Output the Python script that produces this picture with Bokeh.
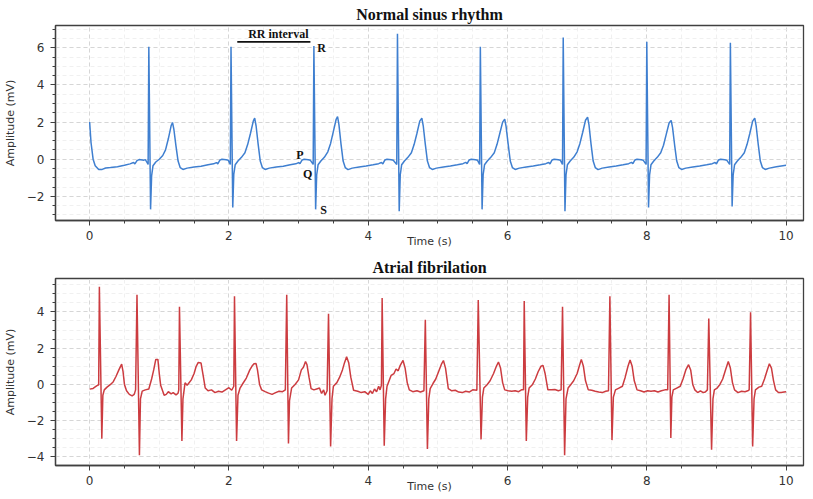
from bokeh.plotting import figure
from bokeh.layouts import column
from bokeh.models import FixedTicker, Range1d
from bokeh.core.properties import value
from bokeh.embed import file_html
from bokeh.resources import INLINE

# ---------------- data ----------------
# Normal sinus rhythm: time (s) and amplitude (mV)
nsr_t = [0.00, 0.02, 0.05, 0.08, 0.13, 0.18, 0.23, 0.30, 0.40, 0.50, 0.58, 0.63, 0.65, 0.68, 0.71, 0.78, 0.80, 0.82, 0.84,
         0.85, 0.875, 0.89, 0.91, 0.95, 1.00, 1.05, 1.09, 1.13, 1.17, 1.19, 1.21, 1.24, 1.27, 1.30, 1.34, 1.40, 1.50, 1.60, 1.70, 1.78, 1.82, 1.84, 1.87, 1.90, 1.96, 1.99, 2.02,
         2.03, 2.055, 2.07, 2.09, 2.13, 2.18, 2.23, 2.27, 2.31, 2.35, 2.37, 2.39, 2.42, 2.45, 2.48, 2.52, 2.58, 2.68, 2.78, 2.88, 2.96, 3.00, 3.02, 3.05, 3.08, 3.14, 3.17, 3.21,
         3.22, 3.245, 3.26, 3.28, 3.32, 3.37, 3.42, 3.46, 3.50, 3.54, 3.56, 3.58, 3.61, 3.64, 3.67, 3.71, 3.77, 3.87, 3.97, 4.07, 4.15, 4.19, 4.21, 4.24, 4.27, 4.33, 4.36, 4.41,
         4.42, 4.445, 4.46, 4.48, 4.52, 4.57, 4.62, 4.66, 4.70, 4.74, 4.77, 4.79, 4.82, 4.85, 4.88, 4.92, 4.98, 5.08, 5.18, 5.28, 5.36, 5.40, 5.42, 5.45, 5.48, 5.54, 5.57, 5.60,
         5.61, 5.635, 5.65, 5.67, 5.71, 5.76, 5.81, 5.85, 5.89, 5.93, 5.96, 5.98, 6.01, 6.04, 6.07, 6.11, 6.17, 6.27, 6.37, 6.47, 6.55, 6.59, 6.61, 6.64, 6.67, 6.73, 6.76, 6.79,
         6.80, 6.825, 6.84, 6.86, 6.90, 6.95, 7.00, 7.04, 7.08, 7.12, 7.15, 7.17, 7.20, 7.23, 7.26, 7.30, 7.36, 7.46, 7.56, 7.66, 7.74, 7.78, 7.80, 7.83, 7.86, 7.92, 7.95, 7.99,
         8.00, 8.025, 8.04, 8.06, 8.10, 8.15, 8.20, 8.24, 8.28, 8.32, 8.35, 8.37, 8.40, 8.43, 8.46, 8.50, 8.56, 8.66, 8.76, 8.86, 8.94, 8.98, 9.00, 9.03, 9.06, 9.12, 9.15, 9.19,
         9.20, 9.225, 9.24, 9.26, 9.30, 9.35, 9.40, 9.44, 9.48, 9.52, 9.55, 9.57, 9.60, 9.63, 9.66, 9.70, 9.76, 9.86, 10.00]
nsr_v = [2.00, 0.90, 0.00, -0.35, -0.56, -0.55, -0.47, -0.45, -0.40, -0.33, -0.25, -0.18, -0.25, -0.08, -0.02, -0.05, -0.02, -0.15, -0.28,
         6.05, -2.70, -0.90, -0.35, -0.15, 0.00, 0.20, 0.50, 1.10, 1.80, 1.98, 1.60, 0.70, -0.10, -0.45, -0.55, -0.48, -0.42, -0.38, -0.30, -0.25, -0.18, -0.25, -0.05, 0.00, -0.03, -0.05, -0.28,
         6.05, -2.60, -0.80, -0.30, -0.10, 0.10, 0.35, 0.80, 1.40, 2.05, 2.21, 1.80, 0.80, -0.10, -0.45, -0.55, -0.48, -0.42, -0.38, -0.30, -0.25, -0.18, -0.24, -0.05, 0.00, -0.03, -0.06, -0.28,
         6.10, -2.70, -0.85, -0.30, -0.10, 0.10, 0.40, 0.85, 1.50, 2.15, 2.30, 1.85, 0.80, -0.10, -0.45, -0.56, -0.48, -0.42, -0.37, -0.30, -0.24, -0.18, -0.25, -0.04, 0.00, -0.03, -0.06, -0.28,
         6.75, -2.80, -0.85, -0.30, -0.10, 0.10, 0.35, 0.80, 1.40, 2.05, 2.21, 1.80, 0.80, -0.10, -0.45, -0.55, -0.48, -0.42, -0.37, -0.30, -0.24, -0.17, -0.24, -0.04, 0.00, -0.03, -0.06, -0.28,
         6.05, -2.70, -0.85, -0.30, -0.10, 0.10, 0.35, 0.80, 1.40, 2.00, 2.16, 1.75, 0.80, -0.10, -0.45, -0.55, -0.48, -0.42, -0.37, -0.30, -0.24, -0.18, -0.25, -0.04, 0.00, -0.03, -0.06, -0.28,
         6.55, -2.80, -0.85, -0.30, -0.10, 0.10, 0.40, 0.85, 1.45, 2.10, 2.27, 1.85, 0.80, -0.10, -0.45, -0.56, -0.48, -0.42, -0.37, -0.30, -0.24, -0.17, -0.24, -0.04, 0.00, -0.03, -0.06, -0.28,
         6.32, -2.60, -0.85, -0.30, -0.10, 0.10, 0.35, 0.75, 1.35, 1.95, 2.09, 1.70, 0.75, -0.10, -0.45, -0.55, -0.48, -0.42, -0.37, -0.30, -0.24, -0.18, -0.25, -0.04, 0.00, -0.03, -0.06, -0.28,
         6.27, -2.55, -0.85, -0.30, -0.10, 0.10, 0.35, 0.80, 1.40, 2.05, 2.21, 1.80, 0.80, -0.10, -0.45, -0.55, -0.48, -0.40, -0.32]

# Atrial fibrillation: time (s) and amplitude (mV)
af_t = [0.00, 0.05, 0.10, 0.13,
        0.14, 0.175, 0.19, 0.21, 0.25, 0.30, 0.34, 0.38, 0.42, 0.46, 0.48, 0.50, 0.53, 0.57, 0.61, 0.64, 0.66,
        0.68, 0.715, 0.73, 0.755, 0.80, 0.85, 0.89, 0.92, 0.95, 0.98, 1.00, 1.02, 1.07, 1.10, 1.13, 1.17, 1.20, 1.24, 1.27, 1.28,
        1.29, 1.325, 1.34, 1.37, 1.40, 1.42, 1.46, 1.50, 1.53, 1.56, 1.60, 1.63, 1.66, 1.70, 1.75, 1.80, 1.85, 1.90, 1.95, 2.00, 2.04, 2.07,
        2.08, 2.11, 2.13, 2.16, 2.20, 2.25, 2.30, 2.33, 2.36, 2.39, 2.41, 2.44, 2.47, 2.52, 2.57, 2.62, 2.67, 2.72, 2.77, 2.81,
        2.83, 2.855, 2.87, 2.90, 2.95, 3.00, 3.04, 3.07, 3.10, 3.12, 3.15, 3.18, 3.22, 3.26, 3.30, 3.33, 3.36, 3.38, 3.41,
        3.43, 3.46, 3.48, 3.50, 3.55, 3.59, 3.63, 3.66, 3.69, 3.72, 3.75, 3.79, 3.85, 3.90, 3.95, 4.00, 4.03, 4.06, 4.09, 4.12, 4.15, 4.17, 4.19,
        4.20, 4.23, 4.25, 4.27, 4.30, 4.33, 4.37, 4.40, 4.43, 4.46, 4.50, 4.53, 4.56, 4.59, 4.64, 4.70, 4.75, 4.80,
        4.82, 4.85, 4.87, 4.89, 4.93, 4.97, 5.01, 5.05, 5.08, 5.11, 5.15, 5.20, 5.25, 5.30, 5.35, 5.40, 5.45, 5.50, 5.56,
        5.58, 5.62, 5.64, 5.66, 5.71, 5.75, 5.80, 5.84, 5.87, 5.90, 5.93, 5.96, 6.01, 6.06, 6.11, 6.16, 6.20, 6.23,
        6.24, 6.27, 6.29, 6.31, 6.36, 6.40, 6.44, 6.48, 6.51, 6.54, 6.58, 6.63, 6.68, 6.73, 6.77,
        6.79, 6.82, 6.84, 6.87, 6.91, 6.95, 7.00, 7.03, 7.06, 7.09, 7.12, 7.16, 7.21, 7.26, 7.31, 7.36, 7.41, 7.45,
        7.47, 7.50, 7.52, 7.55, 7.60, 7.65, 7.69, 7.73, 7.76, 7.79, 7.82, 7.86, 7.91, 7.96, 8.01, 8.06, 8.11, 8.16, 8.21, 8.26, 8.30,
        8.32, 8.345, 8.36, 8.38, 8.43, 8.48, 8.52, 8.56, 8.60, 8.63, 8.66, 8.69, 8.73, 8.77, 8.81, 8.84, 8.87,
        8.89, 8.93, 8.95, 8.97, 9.01, 9.05, 9.09, 9.13, 9.17, 9.20, 9.23, 9.26, 9.31, 9.36, 9.41, 9.45, 9.47,
        9.49, 9.52, 9.54, 9.56, 9.61, 9.65, 9.69, 9.73, 9.76, 9.79, 9.82, 9.85, 9.89, 9.93, 9.97, 10.00]
af_v = [-0.26, -0.22, -0.08, -0.02,
        5.38, -3.00, -0.60, -0.30, -0.15, 0.00, 0.15, 0.45, 0.80, 1.12, 0.70, 0.00, -0.35, -0.55, -0.63, -0.55, -0.30,
        4.95, -3.90, -0.80, -0.37, -0.30, -0.25, 0.30, 0.80, 1.38, 1.38, 0.60, -0.05, -0.60, -0.55, -0.40, -0.52, -0.45, -0.58, -0.48, -0.30,
        4.28, -3.12, -0.80, 0.09, -0.05, 0.05, 0.25, 0.60, 1.00, 1.21, 1.18, 0.50, -0.20, -0.35, -0.30, -0.45, -0.38, -0.42, -0.30, -0.18, -0.32, -0.10,
        4.86, -3.12, -0.60, -0.20, 0.05, 0.35, 0.80, 1.00, 1.14, 1.15, 0.80, 0.00, -0.30, -0.40, -0.48, -0.55, -0.45, -0.38, -0.40, -0.30,
        4.95, -3.26, -0.90, -0.20, 0.00, 0.25, 0.80, 0.95, 1.26, 1.10, 0.40, -0.23, -0.30, -0.25, -0.20, -0.50, -0.30, -0.60, -0.35,
        3.90, -3.42, -0.80, -0.10, 0.10, 0.40, 0.80, 1.20, 1.53, 1.20, 0.40, -0.32, -0.38, -0.45, -0.40, -0.55, -0.35, -0.50, -0.25, -0.40, -0.10, -0.30, -0.05,
        4.77, -3.38, -0.80, -0.10, 0.20, 0.50, 0.60, 0.85, 0.75, 1.05, 1.32, 0.90, 0.10, -0.30, -0.40, -0.35, -0.42, -0.35,
        3.56, -3.56, -0.80, -0.23, 0.05, 0.30, 0.70, 1.10, 1.32, 0.90, -0.23, -0.35, -0.32, -0.42, -0.45, -0.38, -0.42, -0.30, -0.32,
        4.65, -3.03, -0.70, -0.20, 0.00, 0.20, 0.60, 1.00, 1.23, 0.90, 0.10, -0.30, -0.35, -0.38, -0.35, -0.40, -0.30, -0.30,
        4.60, -3.12, -0.70, -0.20, 0.00, 0.30, 0.70, 1.00, 1.05, 0.60, -0.30, -0.30, -0.28, -0.35, -0.30,
        4.28, -3.91, -0.80, -0.20, 0.00, 0.20, 0.60, 1.00, 1.38, 1.00, 0.20, -0.30, -0.32, -0.38, -0.42, -0.45, -0.38, -0.35,
        4.86, -3.07, -0.70, -0.30, -0.20, -0.10, 0.40, 1.00, 1.35, 1.00, 0.20, -0.30, -0.35, -0.42, -0.35, -0.38, -0.35, -0.42, -0.35, -0.30, -0.30,
        4.95, -2.95, -0.70, -0.30, -0.20, -0.10, 0.30, 0.80, 1.09, 0.80, 0.00, -0.30, -0.45, -0.35, -0.45, -0.42, -0.30,
        3.63, -3.60, -0.80, -0.30, -0.20, 0.00, 0.30, 0.80, 1.26, 0.90, 0.10, -0.30, -0.45, -0.38, -0.40, -0.35, -0.30,
        3.98, -3.42, -0.80, -0.30, -0.15, -0.10, 0.30, 0.80, 1.14, 0.90, 0.20, -0.30, -0.45, -0.45, -0.42, -0.40]

# annotations of the top panel
wave_labels = ["P", "Q", "R", "S"]
wave_label_t = [3.02, 3.13, 3.33, 3.36]
wave_label_v = [0.25, -0.82, 6.0, -2.72]
rr_text = "RR interval"
rr_start, rr_end, rr_level = 2.12, 3.17, 6.32
rr_text_t, rr_text_v = 2.71, 6.72

x_ticks = [0, 2, 4, 6, 8, 10]
x_minor = [-0.5 + 0.5 * i for i in range(23)]
top_y_ticks = [-2, 0, 2, 4, 6]
bot_y_ticks = [-4, -2, 0, 2, 4]

NSR_COLOR = "#3f7fd0"
AF_COLOR = "#cc3c40"
SANS = "DejaVu Sans"
SERIF = "Liberation Serif"


def make_fig(title, yr, yticks, frame_h, top_border):
    p = figure(frame_width=748, frame_height=frame_h, output_backend="svg",
               toolbar_location=None, x_range=Range1d(-0.49, 10.25), y_range=Range1d(*yr),
               min_border_left=0, min_border_right=2, min_border_top=top_border, min_border_bottom=0)
    p.title.text = title
    p.title.align = "center"
    p.title.text_font = SERIF
    p.title.text_font_size = "16px"
    p.title.text_font_style = "bold"
    p.title.text_color = "#111111"
    p.title.standoff = 6
    p.outline_line_color = "#404040"
    p.outline_line_width = 1.3
    p.background_fill_color = "white"
    p.border_fill_color = "white"
    minor_y = [yr[0] // 0.5 * 0.5 + 0.5 * i for i in range(40)]
    p.xaxis.ticker = FixedTicker(ticks=x_ticks, minor_ticks=x_minor)
    p.yaxis.ticker = FixedTicker(ticks=yticks, minor_ticks=minor_y)
    p.yaxis.major_label_overrides = {t: ("\u2212" + str(abs(t)) if t < 0 else str(t)) for t in yticks}
    for ax in (p.xaxis[0], p.yaxis[0]):
        ax.axis_line_color = "#404040"
        ax.axis_line_width = 1.3
        ax.major_tick_line_color = "#404040"
        ax.minor_tick_line_color = "#404040"
        ax.major_tick_out = 5
        ax.major_tick_in = 0
        ax.minor_tick_out = 3
        ax.minor_tick_in = 0
        ax.major_label_text_font = SANS
        ax.major_label_text_font_size = "12px"
        ax.major_label_text_color = "#333333"
        ax.axis_label_text_font = SANS
        ax.axis_label_text_font_size = "11px"
        ax.axis_label_text_font_style = "normal"
        ax.axis_label_text_color = "#333333"
    p.xaxis.axis_label = "Time (s)"
    p.xaxis.axis_label_standoff = -8
    p.xaxis.major_label_standoff = 5
    p.yaxis.axis_label = "Amplitude (mV)"
    p.yaxis.axis_label_standoff = 7
    p.yaxis.major_label_standoff = 6
    for g in (p.xgrid[0], p.ygrid[0]):
        g.grid_line_color = "#cfcfcf"
        g.grid_line_dash = "4 3"
        g.grid_line_width = 0.8
        g.minor_grid_line_color = "#ececec"
        g.minor_grid_line_dash = "4 3"
        g.minor_grid_line_width = 0.8
    return p


top = make_fig("Normal sinus rhythm", (-3.3, 7.2), top_y_ticks, 195, 19)
top.line(nsr_t, nsr_v, line_color=NSR_COLOR, line_width=1.5)
top.segment(x0=[rr_start], y0=[rr_level], x1=[rr_end], y1=[rr_level], line_color="#111111", line_width=1.6)
top.text(x=[rr_text_t], y=[rr_text_v], text=[rr_text], text_font=value(SERIF), text_font_size="12px",
         text_font_style="bold", text_align="center", text_baseline="middle", text_color="#111111")
top.text(x=wave_label_t, y=wave_label_v, text=wave_labels, text_font=value(SERIF), text_font_size="12px",
         text_font_style="bold", text_align="center", text_baseline="middle", text_color="#111111")

bot = make_fig("Atrial fibrilation", (-4.47, 5.84), bot_y_ticks, 187, 28)
bot.line(af_t, af_v, line_color=AF_COLOR, line_width=1.5)

layout = column(top, bot, spacing=0)
open("out.html", "w").write(file_html(layout, INLINE))
